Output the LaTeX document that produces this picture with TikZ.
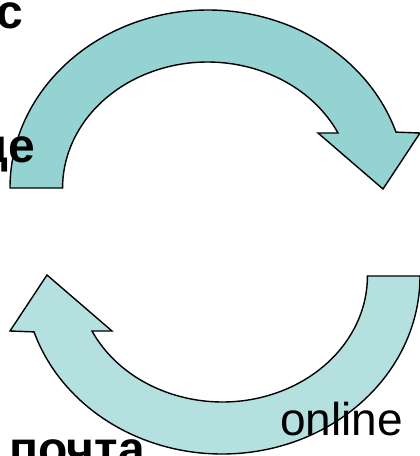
\documentclass[tikz,border=0pt]{standalone}
\usepackage{fontspec}
\setmainfont{Liberation Sans}
\definecolor{topfill}{RGB}{148,211,210}
\definecolor{botfill}{RGB}{180,225,224}
\begin{document}
\begin{tikzpicture}[x=1pt,y=1pt,
  arrowshape/.style={draw=black,line width=1.4pt,line join=miter},
  boldlbl/.style={inner sep=0pt,font=\fontsize{48}{50}\selectfont\bfseries},
  plainlbl/.style={inner sep=0pt,font=\fontsize{46}{48}\selectfont}]
\useasboundingbox (0,0) rectangle (420,-456);
\clip (0,0) rectangle (420,-456);
\def\arrowpath{(10,-188) arc[start angle=180,end angle=18.3,x radius=198,y radius=178]
  -- (420,-133) -- (383,-189) -- (318,-133) -- (338,-133)
  arc[start angle=25.9,end angle=180,x radius=145,y radius=126] -- cycle}
\fill[topfill] \arrowpath;
\draw[arrowshape] \arrowpath;
\begin{scope}[rotate around={180:(215,-232)}]
\fill[botfill] \arrowpath;
\draw[arrowshape] \arrowpath;
\end{scope}
\node[boldlbl,anchor=base east] (t1) at (23.5,-28) {с};
\node[boldlbl,anchor=base east] (t2) at (35,-162) {це};
\node[boldlbl,anchor=base east] (t3) at (145,-465) {почта};
\node[plainlbl,anchor=base west] (t4) at (280,-435) {online};
\end{tikzpicture}
\end{document}
